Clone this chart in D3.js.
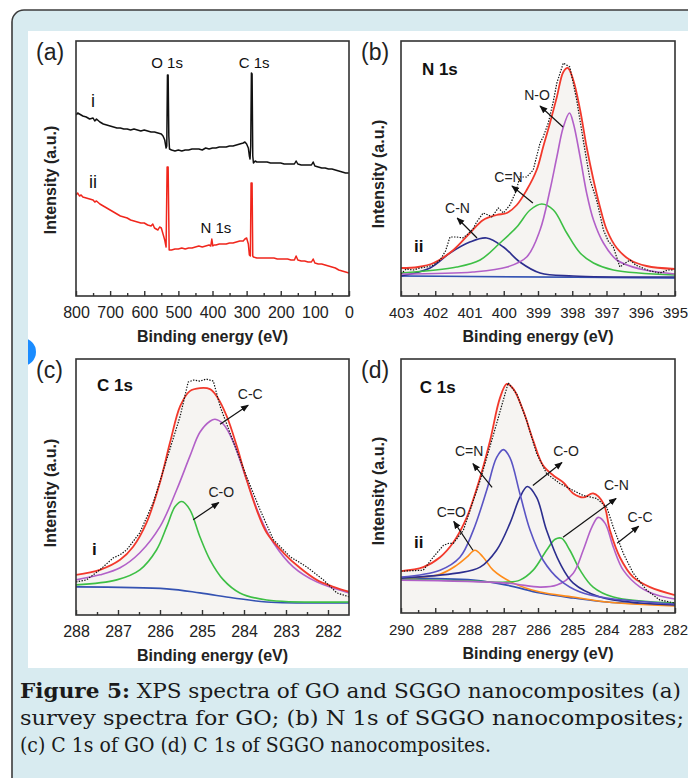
<!DOCTYPE html>
<html>
<head>
<meta charset="utf-8">
<script src="https://cdn.jsdelivr.net/npm/d3@7"></script>
<style>
  body { margin: 0; background: #fff; }
  svg { display: block; }
</style>
</head>
<body>
<svg id="fig" width="688" height="778"></svg>
<script>
// ---------- data (binding energy eV, intensity a.u.) ----------
const surveyGO = [[800,181],[795,183],[790,182],[780,180],[770,179],[760,177],[750,178],[745,175],[740,177],[730,174],[720,172],[710,171],[700,170],[690,169],[680,168],[670,168],[660,167],[650,167],[640,166],[630,167],[620,166],[610,165],[600,166],[590,165],[580,164],[570,164],[560,163],[550,162],[545,160],[540,156],[536,148],[534,150],[532,221],[530,221],[528,160],[526,147],[520,146],[510,145],[500,146],[490,145],[480,146],[470,146],[460,147],[450,147],[440,147],[430,146],[420,148],[410,147],[400,148],[390,148],[380,149],[370,149],[360,149],[350,150],[340,150],[330,151],[320,152],[310,153],[305,154],[300,152],[295,148],[292,140],[290,137],[288,150],[286,223],[284,222],[282,140],[280,133],[275,135],[270,134],[260,134],[250,134],[240,134],[230,133],[220,133],[210,133],[200,133],[190,132],[180,132],[170,132],[160,132],[155,135],[150,132],[140,131],[130,131],[120,131],[110,131],[105,134],[100,130],[90,129],[80,128],[70,128],[60,127],[50,127],[40,126],[30,125],[20,124],[10,123],[0,123]];
const surveySGGO = [[800,101],[795,103],[790,100],[785,101],[780,99],[770,98],[760,97],[750,96],[745,94],[740,95],[730,92],[720,90],[710,88],[700,86],[690,84],[680,82],[670,80],[660,79],[650,78],[640,76],[630,75],[620,74],[610,73],[600,73],[590,71],[580,70],[575,72],[570,68],[565,67],[560,66],[555,69],[550,68],[545,62],[540,56],[536,49],[533,129],[530,129],[527,46],[520,46],[510,47],[500,47],[490,48],[480,47],[470,48],[460,48],[450,49],[440,50],[430,49],[420,50],[410,51],[405,50],[402,57],[399,50],[395,51],[390,51],[380,52],[370,52],[360,52],[350,53],[340,53],[330,54],[320,55],[310,55],[305,57],[300,58],[295,52],[292,41],[289,40],[287,113],[284,113],[282,40],[280,39],[270,38],[260,38],[250,38],[240,38],[230,38],[220,38],[210,37],[200,37],[190,37],[180,37],[170,36],[160,36],[155,40],[150,36],[140,35],[130,35],[120,34],[110,34],[105,37],[100,33],[90,32],[80,32],[70,31],[60,30],[50,29],[40,28],[30,26],[20,25],[10,24],[0,23]];

// (b) N 1s of SGGO
const n1sRaw = [[403.0,22],[402.85,27],[402.64,26],[402.45,28],[402.25,29],[402.05,31],[401.86,36],[401.7,45],[401.57,59],[401.37,59],[401.2,58],[401.08,61],[400.9,67],[400.79,74],[400.6,83],[400.45,81],[400.35,79],[400.16,88],[400.01,83],[399.82,91],[399.65,104],[399.53,119],[399.33,119],[399.14,126],[398.94,153],[398.85,159],[398.7,173],[398.55,195],[398.45,213],[398.26,233],[398.07,229],[397.87,196],[397.68,156],[397.48,116],[397.29,96],[397.09,66],[396.95,55],[396.8,49],[396.61,29],[396.45,33],[396.31,36],[396.15,31],[396.02,29],[395.73,25],[395.44,23],[395.2,26],[395.05,26]];
const n1sFit = [[403,28],[402.5,29],[402.05,33],[401.47,46],[400.99,63],[400.6,76],[400.21,81],[399.91,83],[399.62,91],[399.33,106],[399.04,126],[398.85,149],[398.65,173],[398.45,199],[398.26,224],[398.13,228],[397.97,216],[397.77,186],[397.58,149],[397.38,116],[397.19,89],[396.99,66],[396.7,48],[396.31,36],[395.83,30],[395,27]];
const n1sNO = [[403,22],[400.9,24],[399.9,29],[399.33,39],[398.94,66],[398.65,106],[398.45,139],[398.26,169],[398.08,183],[397.97,173],[397.77,139],[397.58,103],[397.38,76],[397.09,53],[396.7,36],[396.02,27],[395,22]];
const n1sCdN = [[403,23],[401.37,29],[400.69,36],[400.11,53],[399.62,69],[399.23,86],[398.89,92],[398.55,86],[398.16,63],[397.77,43],[397.38,33],[396.8,26],[395,21]];
const n1sCN = [[403,20],[402.15,28],[401.57,43],[400.99,54],[400.5,58],[400.01,49],[399.53,34],[398.94,23],[397.97,20],[395,19]];
const n1sBase = [[403,20],[395,18]];

// (c) C 1s of GO
const c1sGORaw = [[288,33],[287.75,35],[287.43,45],[287.11,57],[286.95,60],[286.79,65],[286.48,82],[286.16,112],[285.84,155],[285.52,198],[285.33,232],[285.2,234],[285.05,233],[284.9,235],[284.73,233],[284.57,208],[284.25,172],[283.94,138],[283.62,105],[283.3,75],[282.9,58],[282.51,48],[282.11,35],[281.79,22],[281.49,18]];
const c1sGOFit = [[288,40],[287.43,45],[286.95,55],[286.64,68],[286.32,92],[286.0,132],[285.76,172],[285.52,208],[285.29,223],[285.05,226],[284.81,225],[284.65,218],[284.41,198],[284.17,168],[283.94,135],[283.7,105],[283.46,82],[283.06,62],[282.67,47],[282.27,35],[281.87,28],[281.49,23]];
const c1sGOCC = [[288,35],[287.43,40],[286.95,47],[286.48,62],[286.0,88],[285.6,125],[285.29,158],[285.05,182],[284.81,193],[284.69,195],[284.49,190],[284.25,172],[283.94,135],[283.62,98],[283.3,72],[282.83,48],[282.27,33],[281.49,22]];
const c1sGOCO = [[288,30],[287.03,35],[286.48,45],[286.08,65],[285.84,88],[285.64,108],[285.48,113],[285.29,105],[285.05,78],[284.81,55],[284.49,35],[284.1,22],[283.46,15],[281.49,13]];
const c1sGOBase = [[288,28],[285.84,26],[285.05,22],[284.25,17],[283.46,13],[281.49,12]];

// (d) C 1s of SGGO
const c1sSGRaw = [[290,42],[289.35,43],[289.06,56],[288.76,68],[288.6,70],[288.47,70],[288.18,83],[287.69,133],[287.21,190],[286.87,231],[286.62,220],[286.33,193],[286.04,160],[285.75,140],[285.36,130],[284.97,123],[284.68,118],[284.29,115],[283.99,106],[283.8,86],[283.51,60],[283.22,40],[282.83,23],[282.44,13],[282,10]];
const c1sSGFit = [[290,42],[289.35,46],[288.86,56],[288.47,71],[288.08,96],[287.69,136],[287.4,173],[287.11,216],[286.91,230],[286.72,225],[286.43,203],[286.14,173],[285.85,148],[285.55,138],[285.26,131],[284.97,120],[284.68,116],[284.39,120],[284.09,110],[283.9,83],[283.61,56],[283.22,36],[282.73,26],[282,18]];
const c1sSGCdN = [[290,36],[288.86,43],[288.28,56],[287.89,83],[287.5,123],[287.21,156],[287.01,164],[286.82,156],[286.53,120],[286.23,83],[285.85,53],[285.36,33],[284.77,21],[283.99,15],[282,9]];
const c1sSGCO = [[290,35],[288.37,40],[287.69,46],[287.21,63],[286.82,90],[286.53,116],[286.31,127],[286.04,116],[285.75,83],[285.36,50],[284.97,30],[284.19,16],[283.02,10],[282,8]];
const c1sSGCdO = [[290,35],[288.86,39],[288.37,48],[288.08,56],[287.84,63],[287.6,56],[287.31,43],[286.72,30],[285.94,21],[284.97,16],[283.99,11],[282,7]];
const c1sSGCN = [[290,34],[287.89,32],[286.91,31],[286.53,33],[286.14,43],[285.75,63],[285.5,74],[285.31,75],[285.07,63],[284.77,43],[284.39,26],[283.8,16],[282,10]];
const c1sSGCC = [[290,33],[286.91,30],[285.94,26],[285.45,28],[284.97,40],[284.68,63],[284.43,86],[284.24,96],[284.04,90],[283.8,66],[283.51,43],[283.02,26],[282.53,18],[282,14]];
const c1sSGBase = [[290,35],[287.89,33],[286.91,28],[285.94,20],[284.97,15],[283.99,11],[282,8]];

// axis ticks
const ticksA = [800, 700, 600, 500, 400, 300, 200, 100, 0];
const minorA = [750, 650, 550, 450, 350, 250, 150, 50];
const ticksB = [403, 402, 401, 400, 399, 398, 397, 396, 395];
const minorB = [402.5, 401.5, 400.5, 399.5, 398.5, 397.5, 396.5, 395.5];
const ticksC = [288, 287, 286, 285, 284, 283, 282];
const minorC = [287.5, 286.5, 285.5, 284.5, 283.5, 282.5];
const ticksD = [290, 289, 288, 287, 286, 285, 284, 283, 282];
const minorD = [289.5, 288.5, 287.5, 286.5, 285.5, 284.5, 283.5, 282.5];

// peak labels: [text, eV, intensity, arrow from, arrow to]
const labelsB = [["N-O", 399.03, 196, [398.27,169], [398.94,190]], ["C=N", 399.86, 114, [399.15,93], [399.76,110]], ["C-N", 401.35, 83, [400.78,58], [401.36,78]]];
const labelsC = [["C-C", 283.85, 215, [284.57,190], [283.9,209]], ["C-O", 284.54, 118, [285.21,95], [284.6,112]]];
const labelsD = [["C=N", 288.01, 158, [287.34,126], [287.9,150]], ["C-O", 285.18, 158, [286.15,128], [285.3,151]], ["C-N", 283.71, 123, [285.27,76], [283.72,115]], ["C=O", 288.53, 96, [287.9,63], [288.46,92]], ["C-C", 283.02, 91, [283.69,70], [283.06,87]]];

const caption = [
  ["Figure 5:", " XPS spectra of GO and SGGO nanocomposites (a)"],
  ["", "survey spectra for GO; (b) N 1s of SGGO nanocomposites;"],
  ["", "(c) C 1s of GO (d) C 1s of SGGO nanocomposites."]
];

// ---------- drawing ----------
const svg = d3.select("#fig");
const defs = svg.append("defs");
const SANS = "'Liberation Sans', Arial, sans-serif";

defs.append("marker").attr("id", "arr")
  .attr("viewBox", "0 0 10 10").attr("refX", 9).attr("refY", 5)
  .attr("markerUnits", "userSpaceOnUse")
  .attr("markerWidth", 8).attr("markerHeight", 8)
  .attr("orient", "auto")
  .append("path").attr("d", "M0,1L10,5L0,9z").attr("fill", "#111");

// frame
svg.append("path")
  .attr("d", "M12,778 L12,22 A12,12 0 0 1 24,10 L688,10 L688,778 Z")
  .attr("fill", "#d8ebf0");
svg.append("path")
  .attr("d", "M12,778 L12,22 A12,12 0 0 1 24,10 L688,10")
  .attr("fill", "none").attr("stroke", "#3c3c3c").attr("stroke-width", 1.6);
svg.append("rect").attr("x", 28).attr("y", 31).attr("width", 660).attr("height", 637).attr("fill", "#fff");

defs.append("clipPath").attr("id", "dotclip").append("rect").attr("x", 28).attr("y", 330).attr("width", 20).attr("height", 50);
svg.append("circle").attr("cx", 22).attr("cy", 352).attr("r", 14)
  .attr("fill", "#1a8cff").attr("clip-path", "url(#dotclip)");

function drawPanel(p) {
  const g = svg.append("g");
  const x = d3.scaleLinear().domain(p.dom).range([p.x0, p.x1]);
  const y = d3.scaleLinear().domain([0, 255]).range([p.y1, p.y0]);

  defs.append("clipPath").attr("id", "clip-" + p.id)
    .append("rect").attr("x", p.x0).attr("y", p.y0).attr("width", p.x1 - p.x0).attr("height", p.y1 - p.y0);
  const plot = g.append("g").attr("clip-path", `url(#clip-${p.id})`);

  const smooth = d3.line().x(d => x(d[0])).y(d => y(d[1])).curve(d3.curveCatmullRom.alpha(0.5));
  const straight = d3.line().x(d => x(d[0])).y(d => y(d[1]));

  if (p.fill) {
    const area = d3.area().x(d => x(d[0])).y0(y(0)).y1(d => y(d[1])).curve(d3.curveCatmullRom.alpha(0.5));
    plot.append("path").attr("d", area(p.fill)).attr("fill", "#f6f4f2");
  }

  p.series.forEach(s => {
    plot.append("path")
      .attr("d", (s.raw ? straight : smooth)(s.data))
      .attr("fill", "none")
      .attr("stroke", s.color)
      .attr("stroke-width", s.w || 1.6)
      .attr("stroke-dasharray", s.dash || null)
      .attr("stroke-linejoin", "round");
  });

  // box
  g.append("rect").attr("x", p.x0).attr("y", p.y0).attr("width", p.x1 - p.x0).attr("height", p.y1 - p.y0)
    .attr("fill", "none").attr("stroke", "#333").attr("stroke-width", 1.6);

  // axes, ticks pointing inward
  const ax = g.append("g").attr("transform", `translate(0,${p.y1})`)
    .call(d3.axisBottom(x).tickValues(p.ticks).tickSizeInner(-5).tickSizeOuter(0).tickPadding(11).tickFormat(d3.format("d")));
  ax.select(".domain").remove();
  ax.selectAll("line").attr("stroke", "#333").attr("stroke-width", 1.4);
  ax.selectAll("text").attr("font-family", SANS).attr("font-size", p.tickSize).attr("fill", "#222");

  const mx = g.append("g").attr("transform", `translate(0,${p.y1})`)
    .call(d3.axisBottom(x).tickValues(p.minor).tickSizeInner(-3).tickSizeOuter(0).tickFormat(""));
  mx.select(".domain").remove();
  mx.selectAll("line").attr("stroke", "#333").attr("stroke-width", 1.4);

  g.append("text")
    .attr("x", (p.x0 + p.x1) / 2).attr("y", p.y1 + 46)
    .attr("text-anchor", "middle")
    .attr("font-family", SANS).attr("font-weight", "bold").attr("font-size", 16).attr("fill", "#222")
    .text("Binding energy (eV)");

  g.append("text")
    .attr("transform", `translate(${p.yLabelX},${p.yLabelY}) rotate(-90)`)
    .attr("text-anchor", "middle")
    .attr("font-family", SANS).attr("font-weight", "bold").attr("font-size", 16).attr("fill", "#222")
    .text("Intensity (a.u.)");

  g.append("text")
    .attr("x", p.x0 - 40).attr("y", p.y0 + 19)
    .attr("font-family", SANS).attr("font-size", 23).attr("fill", "#222")
    .text(p.letter);

  if (p.title) {
    g.append("text").attr("x", x(p.title[1])).attr("y", y(p.title[2]))
      .attr("font-family", SANS).attr("font-weight", "bold").attr("font-size", 17).attr("fill", "#111")
      .text(p.title[0]);
  }

  (p.tags || []).forEach(t => {
    g.append("text").attr("x", x(t[1])).attr("y", y(t[2]))
      .attr("text-anchor", t[3] || "start")
      .attr("font-family", SANS).attr("font-weight", t[4] || "bold").attr("font-size", t[5] || 17).attr("fill", "#111")
      .text(t[0]);
  });

  (p.labels || []).forEach(l => {
    g.append("text").attr("x", x(l[1])).attr("y", y(l[2]))
      .attr("text-anchor", "middle")
      .attr("font-family", SANS).attr("font-size", 14).attr("fill", "#222")
      .text(l[0]);
    g.append("line")
      .attr("x1", x(l[3][0])).attr("y1", y(l[3][1]))
      .attr("x2", x(l[4][0])).attr("y2", y(l[4][1]))
      .attr("stroke", "#111").attr("stroke-width", 1.2)
      .attr("marker-end", "url(#arr)");
  });
}

const RED = "#f2392c", PURPLE = "#b260c8", GREEN = "#3dbf45", NAVY = "#2c2e8e",
      SLATE = "#5a54c4", ORANGE = "#ff8c1a", BASE = "#3452b2", DOT = "1.4,1.4";

drawPanel({
  id: "a", letter: "(a)", dom: [800, 0], x0: 76, x1: 349, y0: 41, y1: 296,
  ticks: ticksA, minor: minorA, tickSize: 16, yLabelX: 56, yLabelY: 180,
  series: [
    { data: surveyGO, color: "#111", w: 1.5, raw: true },
    { data: surveySGGO, color: "#f0261c", w: 1.5, raw: true }
  ],
  tags: [["i", 750, 189, "middle", "normal", 18], ["ii", 750, 108, "middle", "normal", 18],
         ["O 1s", 533, 228, "middle", "normal", 15], ["C 1s", 278, 228, "middle", "normal", 15],
         ["N 1s", 390, 63, "middle", "normal", 15]]
});

drawPanel({
  id: "b", letter: "(b)", dom: [403, 395], x0: 401, x1: 675, y0: 41, y1: 296,
  ticks: ticksB, minor: minorB, tickSize: 15, yLabelX: 384, yLabelY: 174,
  fill: n1sFit,
  series: [
    { data: n1sBase, color: "#8ea3d8", w: 1.2 },
    { data: n1sBase, color: BASE },
    { data: n1sCN, color: NAVY },
    { data: n1sCdN, color: GREEN },
    { data: n1sNO, color: PURPLE },
    { data: n1sFit, color: RED, w: 1.8 },
    { data: n1sRaw, color: "#111", w: 1.2, dash: DOT, raw: true }
  ],
  title: ["N 1s", 402.39, 221],
  tags: [["ii", 402.62, 44]],
  labels: labelsB
});

drawPanel({
  id: "c", letter: "(c)", dom: [288, 281.5], x0: 76, x1: 349, y0: 359, y1: 615,
  ticks: ticksC, minor: minorC, tickSize: 16, yLabelX: 56, yLabelY: 493,
  fill: c1sGOFit,
  series: [
    { data: c1sGOBase, color: BASE },
    { data: c1sGOCO, color: GREEN },
    { data: c1sGOCC, color: PURPLE },
    { data: c1sGOFit, color: RED, w: 1.8 },
    { data: c1sGORaw, color: "#111", w: 1.2, dash: DOT, raw: true }
  ],
  title: ["C 1s", 287.5, 223],
  tags: [["i", 287.62, 60]],
  labels: labelsC
});

drawPanel({
  id: "d", letter: "(d)", dom: [290, 282], x0: 401, x1: 675, y0: 359, y1: 613,
  ticks: ticksD, minor: minorD, tickSize: 15, yLabelX: 384, yLabelY: 491,
  fill: c1sSGFit,
  series: [
    { data: c1sSGBase, color: BASE },
    { data: c1sSGCdO, color: ORANGE },
    { data: c1sSGCN, color: GREEN },
    { data: c1sSGCC, color: PURPLE },
    { data: c1sSGCO, color: NAVY },
    { data: c1sSGCdN, color: SLATE },
    { data: c1sSGFit, color: RED, w: 1.8 },
    { data: c1sSGRaw, color: "#111", w: 1.2, dash: DOT, raw: true }
  ],
  title: ["C 1s", 289.45, 221],
  tags: [["ii", 289.62, 65]],
  labels: labelsD
});

// caption, stretched to the widths of the original lines
const capWidths = [661, 664, 471];
caption.forEach((c, i) => {
  const t = svg.append("text")
    .attr("x", 20).attr("y", 698 + i * 27)
    .attr("font-family", "'DejaVu Serif', 'Liberation Serif', serif")
    .attr("font-size", 20).attr("fill", "#1a1a1a")
    .attr("textLength", capWidths[i]).attr("lengthAdjust", "spacingAndGlyphs");
  if (c[0]) t.append("tspan").attr("font-weight", "bold").text(c[0]);
  t.append("tspan").text(c[1]);
});
</script>
</body>
</html>
